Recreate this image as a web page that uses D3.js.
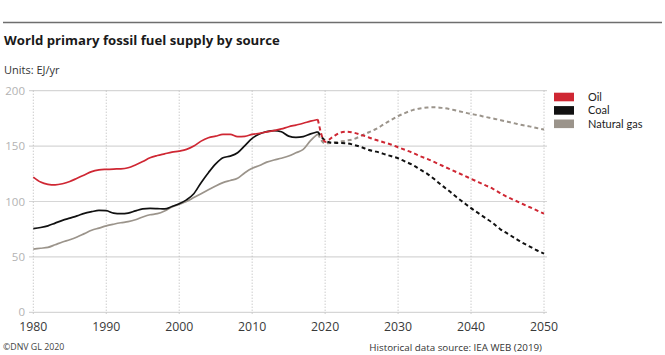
<!DOCTYPE html>
<html><head><meta charset="utf-8">
<script src="https://cdn.jsdelivr.net/npm/d3@7"></script>
<style>
html,body{margin:0;padding:0;background:#fff;}
svg{display:block;font-family:"Open Sans","Noto Sans",sans-serif;}
</style></head>
<body>
<svg id="chart" width="665" height="355"></svg>
<script>
const histYears = d3.range(1980, 2020);
const projYears = d3.range(2019, 2051);
const oilHist = [122,117.5,115.5,115,116,118,121,124,127,128.5,129,129.3,129.5,130.5,133,136,139.5,141.5,143,144.5,145.5,147,150,154.5,157.5,159,160.5,160.5,158.5,158.8,160.6,161.5,162.8,164,165.5,167.5,169,170.6,172.5,174];
const coalHist = [75.5,76.5,78,80.5,83,85,87,89.3,90.8,92,91.7,89.5,89,89.5,91.5,93.3,93.8,93.6,93.3,95.5,98,101.5,107,117,126,134,139.5,141,144,150.5,157,161,163,164,163,159,157.8,158.5,161,163];
const gasHist = [57,57.8,58.6,61,63.5,65.5,68,71,74,76,78,79.5,80.8,81.8,83.5,86,88,89,91.5,95,97.5,100,103.5,107,110.5,114,117,119,121,126,130,132.5,135.5,137.5,139,141,144,147,155,161];
const oilProj = [174,154,158,162,163,162,160,157.8,155.5,153.5,151.5,149,146.5,144,141,138.5,135.5,132.5,129.5,126.5,123.5,120.5,117.5,114.5,111.5,107.5,104,101,98,95,92,89];
const coalProj = [163,155,153,152.8,152.5,151,149,146.5,145,143,141,139,136,133,129,125,120,114.5,109.5,104,99,94,89.5,85,80.5,75,71,67,63,59.5,56,53];
const gasProj = [161,152.5,153,154,155,156.5,159.5,162.5,165.5,169.5,173.5,177,180,182.5,184,184.8,185,184.5,183.5,182,180.5,179,177.8,176.3,175,173.5,172,170.5,169,167.8,166.3,165];
const seriesNames = ["Oil","Coal","Natural gas"];
const seriesColors = ["#cf2733","#111111","#9b948b"];
const yTicks = [0,50,100,150,200];
const xTicks = [1980,1990,2000,2010,2020,2030,2040,2050];
const titleText = "World primary fossil fuel supply by source";
const unitsText = "Units: EJ/yr";
const copyText = "\u00A9DNV GL 2020";
const sourceText = "Historical data source: IEA WEB (2019)";

const svg = d3.select("#chart");
const x = d3.scaleLinear().domain([1980,2050]).range([33.3,544]);
const y = d3.scaleLinear().domain([0,200]).range([312.3,90.7]);

// top rule
svg.append("line").attr("x1",3).attr("x2",662).attr("y1",22.5).attr("y2",22.5)
  .attr("stroke","#6e6e6e").attr("stroke-width",1.6);
svg.append("text").attr("x",4).attr("y",45).attr("font-size",13.2).attr("font-weight",700)
  .attr("fill","#1a1a1a").text(titleText);
svg.append("text").attr("x",4).attr("y",74).attr("font-size",11).attr("fill","#333").text(unitsText);

// horizontal grid
const gy = svg.append("g");
gy.selectAll("line").data(yTicks).join("line")
  .attr("x1",29).attr("x2",547).attr("y1",d=>y(d)).attr("y2",d=>y(d))
  .attr("stroke","#d6d6d6").attr("stroke-width",1.2);
gy.selectAll("text").data(yTicks).join("text")
  .attr("x",25).attr("y",d=>y(d)+4).attr("text-anchor","end")
  .attr("font-size",11.5).attr("fill","#b3b3b3").text(d=>d);

// vertical dotted grid
svg.append("g").selectAll("line").data(xTicks).join("line")
  .attr("x1",d=>x(d)).attr("x2",d=>x(d)).attr("y1",y(200)).attr("y2",y(0)+2)
  .attr("stroke","#b5b5b5").attr("stroke-width",1).attr("stroke-dasharray","1,2");

// x axis labels
svg.append("g").selectAll("text").data(xTicks).join("text")
  .attr("x",d=>x(d)).attr("y",331).attr("text-anchor","middle")
  .attr("font-size",12.3).attr("fill","#3a3a3a").text(d=>d);

const line = d3.line().x(d=>x(d[0])).y(d=>y(d[1])).curve(d3.curveMonotoneX);
const hist = [oilHist, coalHist, gasHist];
const proj = [oilProj, coalProj, gasProj];
[2,1,0].forEach(i=>{
  svg.append("path").datum(projYears.map((yr,k)=>[yr,proj[i][k]]))
    .attr("d",line).attr("fill","none").attr("stroke",seriesColors[i])
    .attr("stroke-width",2).attr("stroke-dasharray","4,3");
});
[2,1,0].forEach(i=>{
  svg.append("path").datum(histYears.map((yr,k)=>[yr,hist[i][k]]))
    .attr("d",line).attr("fill","none").attr("stroke",seriesColors[i])
    .attr("stroke-width",1.7);
});

// legend
const lg = svg.append("g");
seriesNames.forEach((n,i)=>{
  lg.append("rect").attr("x",554).attr("y",92.7+i*13.4).attr("width",20).attr("height",8.6)
    .attr("fill",seriesColors[i]);
  lg.append("text").attr("x",588).attr("y",101+i*13.4).attr("font-size",11)
    .attr("font-family","Lato, 'Open Sans', sans-serif")
    .attr("fill","#222").text(n);
});

// footer
svg.append("text").attr("x",3).attr("y",350).attr("font-size",8.8).attr("fill","#444").text(copyText);
svg.append("text").attr("x",542).attr("y",351).attr("text-anchor","end").attr("font-size",9.8)
  .attr("fill","#333").text(sourceText);
</script>
</body></html>
